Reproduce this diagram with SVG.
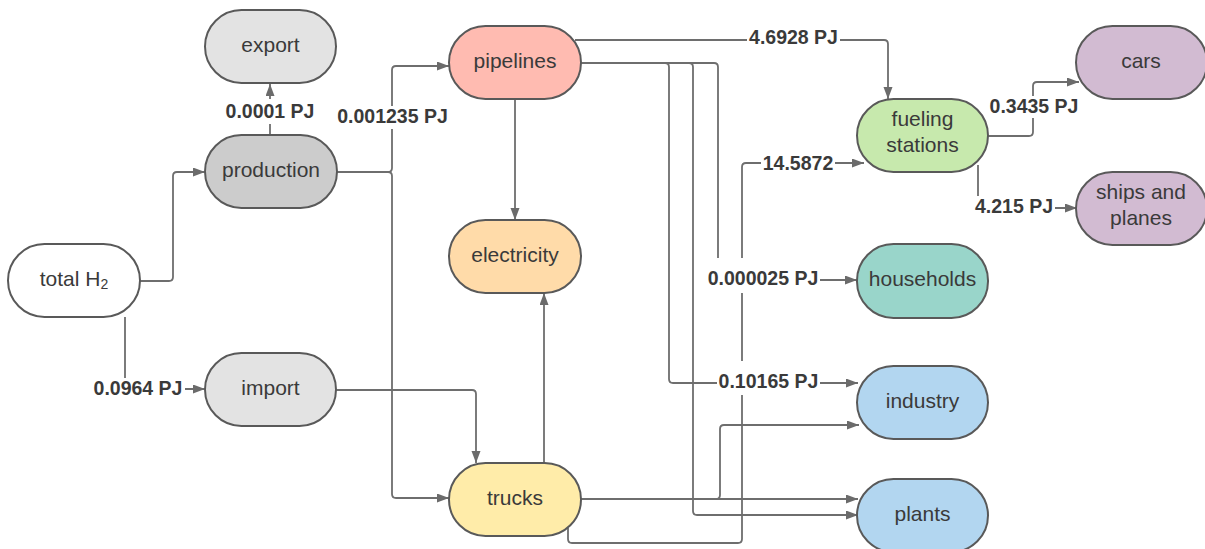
<svg xmlns="http://www.w3.org/2000/svg" width="1205" height="549" viewBox="0 0 1205 549">
<defs>
<marker id="arr" markerUnits="userSpaceOnUse" markerWidth="14" markerHeight="12" refX="12" refY="4.5" orient="auto">
<path d="M0,0 L12,4.5 L0,9 Z" fill="#6b6b6b"/>
</marker>
<style>
.n{stroke:#595959;stroke-width:2}
.t{font-family:"Liberation Sans",Arial,sans-serif;font-size:21px;fill:#3a3a3a;text-anchor:middle}
.c{fill:none;stroke:#6e6e6e;stroke-width:1.8;marker-end:url(#arr)}
.lb{fill:#ffffff}
.l{font-family:"Liberation Sans",Arial,sans-serif;font-size:19.5px;font-weight:bold;fill:#3a3a3a;text-anchor:middle}
</style>
</defs>
<rect width="1205" height="549" fill="#ffffff"/>
<g id="connectors">
<path class="c" d="M270,135 V84"/>
<path class="c" d="M140,281 H169 Q173,281 173,277 V176 Q173,172 177,172 H205"/>
<path class="c" d="M125,317 V385 Q125,389 129,389 H205"/>
<path class="c" d="M337,172 H388 Q392,172 392,168 V70 Q392,66 396,66 H449"/>
<path class="c" d="M337,172 H388 Q392,172 392,176 V494 Q392,498 396,498 H449"/>
<path class="c" d="M336,390 H472 Q476,390 476,394 V463"/>
<path class="c" d="M515,99 V220"/>
<path class="c" d="M544,463 V293"/>
<path class="c" d="M575,40 H884 Q888,40 888,44 V99"/>
<path class="c" d="M581,63 H714 Q718,63 718,67 V276 Q718,280 722,280 H857"/>
<path class="c" d="M581,63 H665 Q669,63 669,67 V379 Q669,383 673,383 H858"/>
<path class="c" d="M581,63 H689 Q693,63 693,67 V511 Q693,515 697,515 H858"/>
<path class="c" d="M581,499 H858"/>
<path class="c" d="M581,499 H716 Q720,499 720,495 V429 Q720,425 724,425 H859"/>
<path class="c" d="M568,528 V539 Q568,543 572,543 H738 Q742,543 742,539 V167 Q742,163 746,163 H864"/>
<path class="c" d="M988,136 H1029 Q1033,136 1033,132 V86 Q1033,82 1037,82 H1079"/>
<path class="c" d="M978,165 V204 Q978,208 982,208 H1077"/>
<rect class="lb" x="224" y="99" width="92" height="25"/>
<text class="l" x="270" y="118">0.0001 PJ</text>
<rect class="lb" x="335" y="106" width="115" height="23"/>
<text class="l" x="392.5" y="123">0.001235 PJ</text>
<rect class="lb" x="747" y="28" width="93" height="20"/>
<text class="l" x="793.5" y="44">4.6928 PJ</text>
<rect class="lb" x="761" y="153" width="74" height="20"/>
<text class="l" x="798" y="170">14.5872</text>
<rect class="lb" x="706" y="258" width="114" height="35"/>
<text class="l" x="763" y="285">0.000025 PJ</text>
<rect class="lb" x="717" y="361" width="103" height="34"/>
<text class="l" x="768.5" y="388">0.10165 PJ</text>
<rect class="lb" x="988" y="96" width="92" height="22"/>
<text class="l" x="1034" y="113">0.3435 PJ</text>
<rect class="lb" x="973" y="196" width="82" height="22"/>
<text class="l" x="1014" y="213">4.215 PJ</text>
<rect class="lb" x="91" y="378" width="94" height="20"/>
<text class="l" x="138" y="395">0.0964 PJ</text>
</g>
<g id="export"><rect class="n" x="205" y="10" width="131" height="73" rx="36.5" fill="#e3e3e3"/><text class="t" x="270.5" y="52">export</text></g>
<g id="production"><rect class="n" x="205" y="135" width="132" height="73" rx="36.5" fill="#cccccc"/><text class="t" x="271" y="177">production</text></g>
<g id="total"><rect class="n" x="8" y="244" width="132" height="73" rx="36.5" fill="#ffffff"/><text class="t" x="74" y="286">total H<tspan font-size="14" dy="3">2</tspan></text></g>
<g id="import"><rect class="n" x="205" y="353" width="131" height="73" rx="36.5" fill="#e3e3e3"/><text class="t" x="270.5" y="395">import</text></g>
<g id="pipelines"><rect class="n" x="449" y="26" width="132" height="73" rx="36.5" fill="#ffbbb1"/><text class="t" x="515" y="68">pipelines</text></g>
<g id="electricity"><rect class="n" x="449" y="220" width="132" height="73" rx="36.5" fill="#ffdba9"/><text class="t" x="515" y="262">electricity</text></g>
<g id="trucks"><rect class="n" x="449" y="463" width="132" height="73" rx="36.5" fill="#ffeca9"/><text class="t" x="515" y="505">trucks</text></g>
<g id="fueling"><rect class="n" x="857" y="99" width="131" height="73" rx="36.5" fill="#c7e9ad"/><text class="t" x="922.5" y="126">fueling</text><text class="t" x="922.5" y="152">stations</text></g>
<g id="cars"><rect class="n" x="1076" y="26" width="131" height="73" rx="36.5" fill="#d2bbd2"/><text class="t" x="1141" y="68">cars</text></g>
<g id="ships"><rect class="n" x="1076" y="172" width="131" height="73" rx="36.5" fill="#d2bbd2"/><text class="t" x="1141" y="199">ships and</text><text class="t" x="1141" y="225">planes</text></g>
<g id="households"><rect class="n" x="857" y="244" width="131" height="74" rx="36.5" fill="#99d5ca"/><text class="t" x="922.5" y="286">households</text></g>
<g id="industry"><rect class="n" x="857" y="366" width="131" height="73" rx="36.5" fill="#b2d6f0"/><text class="t" x="922.5" y="408">industry</text></g>
<g id="plants"><rect class="n" x="857" y="479" width="131" height="73" rx="36.5" fill="#b2d6f0"/><text class="t" x="922.5" y="521">plants</text></g>
</svg>
